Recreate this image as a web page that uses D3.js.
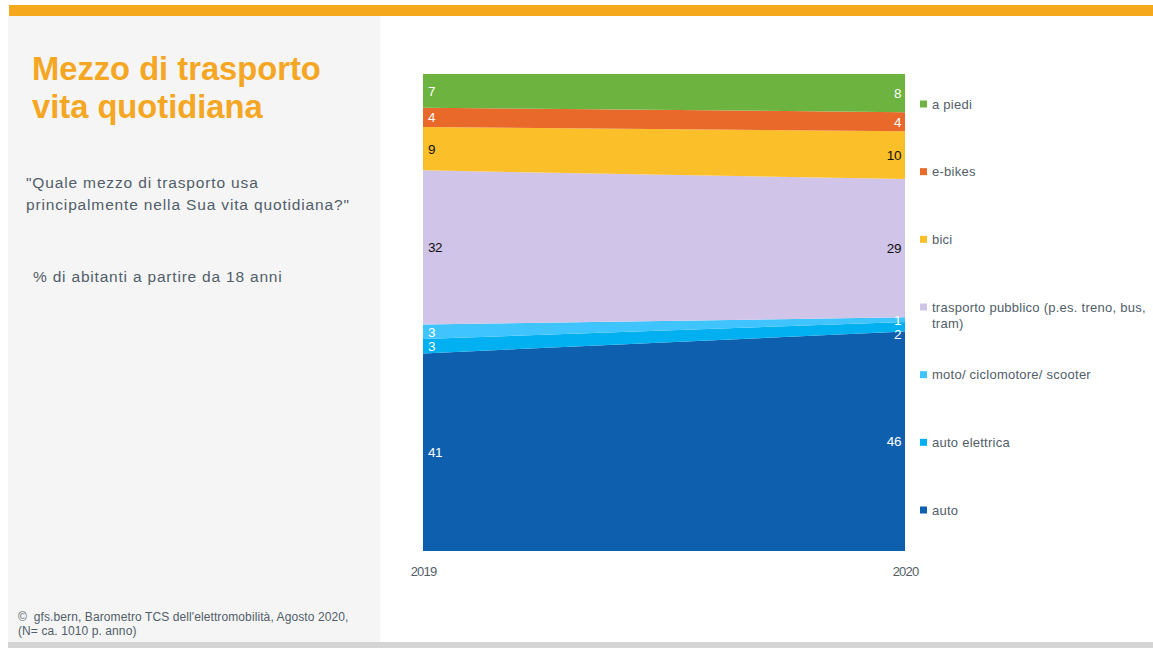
<!DOCTYPE html>
<html><head><meta charset="utf-8">
<script src="https://cdn.jsdelivr.net/npm/d3@7"></script>
<style>
html,body{margin:0;padding:0;background:#fff;}
svg{display:block;font-family:"Liberation Sans",Arial,sans-serif;}
</style></head>
<body><svg id="c" width="1153" height="648"></svg>
<script>
const years = ["2019","2020"];
const categories = ["auto","auto elettrica","moto/ ciclomotore/ scooter","trasporto pubblico (p.es. treno, bus, tram)","bici","e-bikes","a piedi"];
const values2019 = [41,3,3,32,9,4,7];
const values2020 = [46,2,1,29,10,4,8];
const colors = ["#0E5FAD","#00B0F0","#40C4FF","#D0C4E8","#FBBF2A","#E8692A","#6DB33F"];
const labelColors = ["#fff","#fff","#fff","#111","#111","#fff","#fff"];
const legendOrder = ["a piedi","e-bikes","bici","trasporto pubblico (p.es. treno, bus, tram)","moto/ ciclomotore/ scooter","auto elettrica","auto"];

const svg = d3.select("#c");
const textCol = "#515d69";

// frame
svg.append("rect").attr("x",8).attr("y",16).attr("width",372).attr("height",626).attr("fill","#F5F5F5");
svg.append("rect").attr("x",9).attr("y",5).attr("width",1144).attr("height",11).attr("fill","#F5A81C");
svg.append("rect").attr("x",8).attr("y",642).attr("width",1145).attr("height",6).attr("fill","#D4D4D4");

// title and texts
const title = svg.append("text").attr("fill","#F5A623").attr("font-weight","bold").attr("font-size",32.7);
title.append("tspan").attr("x",32).attr("y",80).text("Mezzo di trasporto");
title.append("tspan").attr("x",32).attr("y",118).text("vita quotidiana");

const sub = svg.append("text").attr("fill",textCol).attr("font-size",15.5).attr("letter-spacing",0.85);
sub.append("tspan").attr("x",26).attr("y",188).text("\"Quale mezzo di trasporto usa");
sub.append("tspan").attr("x",26).attr("y",210).text("principalmente nella Sua vita quotidiana?\"");
svg.append("text").attr("fill",textCol).attr("font-size",15.5).attr("letter-spacing",0.8).attr("x",33).attr("y",282).text("% di abitanti a partire da 18 anni");

const foot = svg.append("text").attr("fill",textCol).attr("font-size",12).attr("letter-spacing",0.1);
foot.append("tspan").attr("x",18).attr("y",621).text("©\u00A0\u00A0gfs.bern, Barometro TCS dell'elettromobilità, Agosto 2020,");
foot.append("tspan").attr("x",18).attr("y",635).text("(N= ca. 1010 p. anno)");

// data table
const table = years.map((y,i)=>{
  const row = {year:y};
  categories.forEach((c,j)=>{ row[c] = (i===0?values2019:values2020)[j]; });
  return row;
});
const stack = d3.stack().keys(categories).offset(d3.stackOffsetExpand);
const series = stack(table);

const x = d3.scalePoint().domain(years).range([423,905]);
const y = d3.scaleLinear().domain([0,1]).range([551,74]);

const area = d3.area().x(d=>x(d.data.year)).y0(d=>y(d[0])).y1(d=>y(d[1]));
svg.append("g").selectAll("path").data(series).join("path")
  .attr("d",area).attr("fill",(d,i)=>colors[i]);

// labels with simple collision avoidance per column (top to bottom)
const lg = svg.append("g").attr("font-size",13.5).attr("letter-spacing",-0.4);
years.forEach((yr,k)=>{
  const items = series.map((s,i)=>{
    const d = s[k];
    return {i, val:d.data[s.key], yy:(y(d[0])+y(d[1]))/2};
  }).sort((a,b)=>a.yy-b.yy);
  for(let j=1;j<items.length;j++){
    if(items[j].yy - items[j-1].yy < 14) items[j].yy = items[j-1].yy + 14;
  }
  items.forEach(it=>{
    lg.append("text")
      .attr("x", k===0 ? x(yr)+5 : x(yr)-4)
      .attr("y", it.yy)
      .attr("dy","0.36em")
      .attr("text-anchor", k===0 ? "start" : "end")
      .attr("fill", labelColors[it.i])
      .text(it.val);
  });
});

// x axis (no line)
const xAxis = d3.axisBottom(x).tickSize(0).tickPadding(0);
const ax = svg.append("g").attr("transform","translate(0,564)").call(xAxis);
ax.select(".domain").remove();
ax.selectAll("text").attr("font-family","Liberation Sans, Arial, sans-serif").attr("font-size",13).attr("letter-spacing",-0.8).attr("fill",textCol).attr("dy","0.9em");

// legend
const legY = d3.scalePoint().domain(legendOrder).range([104,510]);
const leg = svg.append("g");
legendOrder.forEach(name=>{
  const i = categories.indexOf(name);
  const cy = legY(name);
  leg.append("rect").attr("x",920).attr("y",cy-3.5).attr("width",7).attr("height",7).attr("fill",colors[i]);
  const t = leg.append("text").attr("x",932).attr("y",cy).attr("dy","0.36em").attr("font-size",13).attr("letter-spacing",0.25).attr("fill",textCol);
  if(name.startsWith("trasporto")){
    t.append("tspan").attr("x",932).text("trasporto pubblico (p.es. treno, bus,");
    t.append("tspan").attr("x",932).attr("dy","1.25em").text("tram)");
  } else t.text(name);
});
</script></body></html>
